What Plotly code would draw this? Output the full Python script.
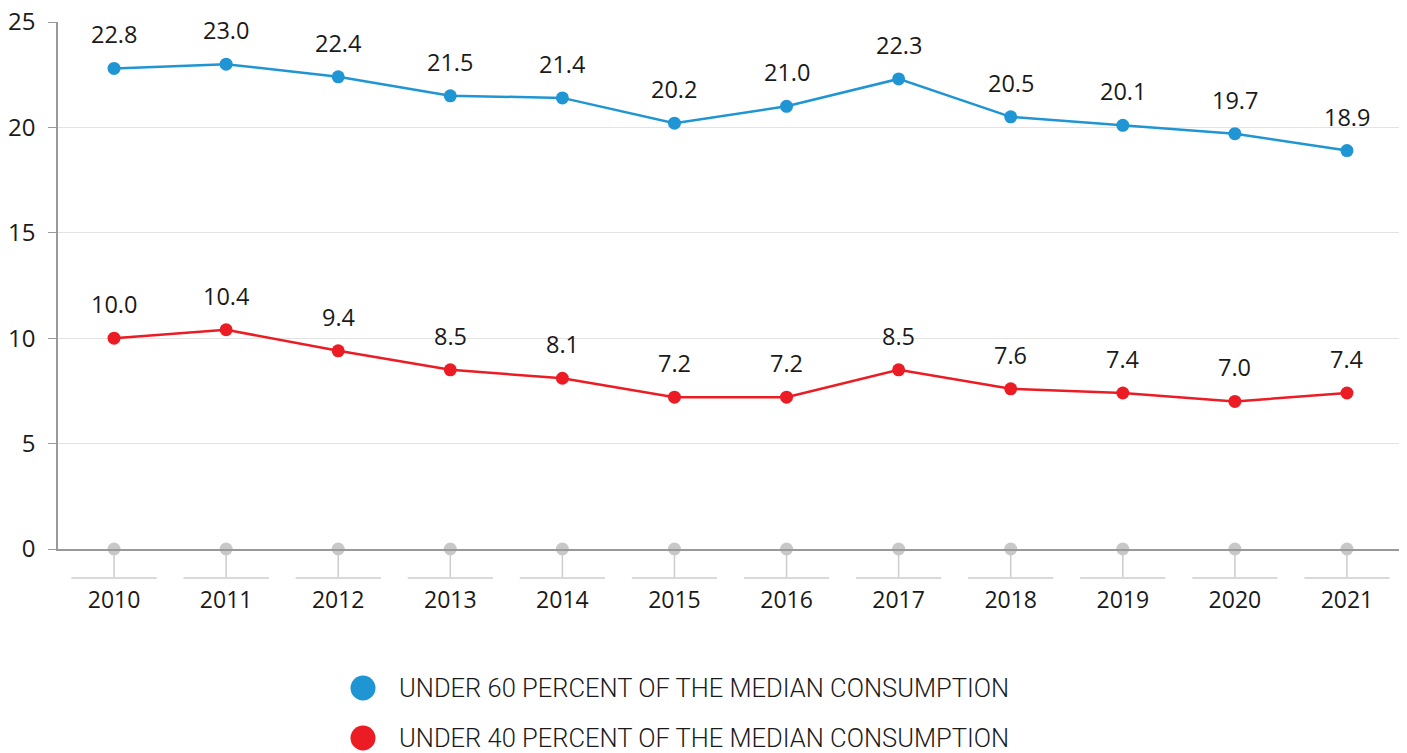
import plotly.graph_objects as go

years = ["2010", "2011", "2012", "2013", "2014", "2015", "2016", "2017", "2018", "2019", "2020", "2021"]
under60 = [22.8, 23.0, 22.4, 21.5, 21.4, 20.2, 21.0, 22.3, 20.5, 20.1, 19.7, 18.9]
under40 = [10.0, 10.4, 9.4, 8.5, 8.1, 7.2, 7.2, 8.5, 7.6, 7.4, 7.0, 7.4]
baseline = [0] * len(years)
series_names = ["UNDER 60 PERCENT OF THE MEDIAN CONSUMPTION", "UNDER 40 PERCENT OF THE MEDIAN CONSUMPTION"]
y_ticks = [0, 5, 10, 15, 20, 25]

BLUE = "#1f95d3"
RED = "#ec1c24"
TXT = "#1a1a1a"
NUMFONT = "Open Sans, Noto Sans, sans-serif"

OFF = 8  # page body margin
W, H = 1407 - OFF, 753 - OFF
ML, MR, MT = 58 - OFF, 4, 22 - OFF
MB = H - (549 - OFF)
plot_h = H - MT - MB
plot_w = W - ML - MR

fig = go.Figure()

fig.add_trace(go.Scatter(x=years, y=baseline, mode="markers", cliponaxis=False,
                         marker=dict(size=13, color="#c8c8c8"), showlegend=False, hoverinfo="skip"))
for vals, col, name in [(under60, BLUE, series_names[0]), (under40, RED, series_names[1])]:
    fig.add_trace(go.Scatter(x=years, y=vals, mode="lines+markers", name=name, cliponaxis=False,
                             line=dict(color=col, width=2.5), marker=dict(size=13, color=col),
                             showlegend=False))

annotations = []
for vals in (under60, under40):
    for i, v in enumerate(vals):
        annotations.append(dict(x=i, y=v, xref="x", yref="y", text=f"{v:.1f}", showarrow=False,
                                yshift=34, font=dict(family=NUMFONT, size=23.5, color=TXT)))

shapes = []
stem = 29 / plot_h
for i, yr in enumerate(years):
    shapes.append(dict(type="line", xref="x", yref="paper", x0=i, x1=i, y0=0, y1=-stem,
                       line=dict(color="#cccccc", width=1.5), layer="below"))
    shapes.append(dict(type="line", xref="x", yref="paper", x0=i - 0.38, x1=i + 0.38, y0=-stem, y1=-stem,
                       line=dict(color="#d9d9d9", width=2), layer="below"))

# manual legend
for k, (col, name) in enumerate([(BLUE, series_names[0]), (RED, series_names[1])]):
    cy = 688 + 50 * k - OFF
    yp = (H - MB - cy) / plot_h
    xp = (363 - OFF - ML) / plot_w
    shapes.append(dict(type="circle", xref="paper", yref="paper", xsizemode="pixel", ysizemode="pixel",
                       xanchor=xp, yanchor=yp, x0=-12.5, x1=12.5, y0=-12.5, y1=12.5,
                       fillcolor=col, line=dict(width=0)))
    annotations.append(dict(x=(397 - OFF - ML) / plot_w, y=yp, xref="paper", yref="paper", text=name,
                            showarrow=False, xanchor="left", yanchor="middle",
                            font=dict(family="Roboto", size=25.5, color=TXT, weight=300)))

fig.update_layout(
    width=W, height=H,
    margin=dict(l=ML, r=MR, t=MT, b=MB, autoexpand=False),
    plot_bgcolor="white", paper_bgcolor="white",
    showlegend=False,
    annotations=annotations, shapes=shapes,
    xaxis=dict(type="category", range=[-0.5, len(years) - 0.5], showgrid=False, zeroline=False,
               showline=True, linecolor="#999999", linewidth=1.5, ticks="", automargin=False,
               tickfont=dict(family=NUMFONT, size=23, color=TXT), ticklabelstandoff=30),
    yaxis=dict(range=[0, 25], tickvals=y_ticks, showgrid=True, gridcolor="#e3e3e3", zeroline=False,
               showline=True, linecolor="#999999", linewidth=1.5, ticks="outside", ticklen=8,
               tickcolor="#999999", tickfont=dict(family=NUMFONT, size=24, color=TXT),
               ticklabelstandoff=8, ticklabeloverflow="allow", automargin=False),
)

fig.write_html("out.html")
